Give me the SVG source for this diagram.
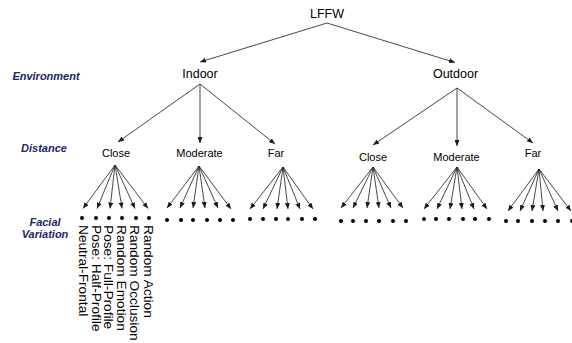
<svg xmlns="http://www.w3.org/2000/svg" width="572" height="343" viewBox="0 0 572 343">
<defs>
<marker id="ah" markerWidth="6" markerHeight="5" refX="6" refY="2.5" orient="auto" markerUnits="userSpaceOnUse"><path d="M0,0 L6,2.5 L0,5 z" fill="#1a1a1a"/></marker>
<style>
.t{font-family:"Liberation Sans",Arial,sans-serif;fill:#000;text-anchor:middle}
.n1{font-size:12.5px}
.n2{font-size:11px}
.lab{font-family:"Liberation Sans",Arial,sans-serif;font-size:11px;font-weight:bold;font-style:italic;fill:#23236e;text-anchor:middle}
.leaf{font-family:"Liberation Sans",Arial,sans-serif;font-size:13.7px;fill:#000}
.c line{stroke:#1a1a1a;stroke-width:0.8;marker-end:url(#ah)}
.d circle{fill:#000}
</style>
</defs>
<rect width="572" height="343" fill="#fff"/>

<g id="labels">
<text class="lab" x="46" y="80">Environment</text>
<text class="lab" x="44" y="152">Distance</text>
<text class="lab" x="45" y="226">Facial</text>
<text class="lab" x="45" y="238">Variation</text>
</g>

<g id="node-lffw"><text class="t n1" x="327" y="18">LFFW</text></g>
<g id="node-indoor"><text class="t n1" x="200" y="78">Indoor</text></g>
<g id="node-outdoor"><text class="t n1" x="455.5" y="78">Outdoor</text></g>
<g id="node-in-close"><text class="t n2" x="116" y="157">Close</text></g>
<g id="node-in-moderate"><text class="t n2" x="199.5" y="157">Moderate</text></g>
<g id="node-in-far"><text class="t n2" x="276" y="157">Far</text></g>
<g id="node-out-close"><text class="t n2" x="373" y="161">Close</text></g>
<g id="node-out-moderate"><text class="t n2" x="456.5" y="161">Moderate</text></g>
<g id="node-out-far"><text class="t n2" x="533" y="157">Far</text></g>

<g id="connectors" class="c">
<line x1="327" y1="23" x2="200" y2="62"/>
<line x1="327" y1="23" x2="455" y2="62.5"/>
<line x1="200" y1="84" x2="118" y2="142"/>
<line x1="200" y1="84" x2="200" y2="143"/>
<line x1="200" y1="84" x2="275" y2="144"/>
<line x1="457" y1="88" x2="373" y2="145"/>
<line x1="457" y1="88" x2="457" y2="146"/>
<line x1="457" y1="88" x2="533" y2="143"/>
<line x1="115" y1="165" x2="83" y2="208.5"/>
<line x1="115" y1="165" x2="97" y2="208.5"/>
<line x1="115" y1="165" x2="110" y2="208.5"/>
<line x1="115" y1="165" x2="122" y2="208.5"/>
<line x1="115" y1="165" x2="135" y2="208.5"/>
<line x1="115" y1="165" x2="148" y2="208.5"/>
<line x1="199" y1="166" x2="167" y2="208"/>
<line x1="199" y1="166" x2="180" y2="208"/>
<line x1="199" y1="166" x2="193" y2="208"/>
<line x1="199" y1="166" x2="205" y2="208"/>
<line x1="199" y1="166" x2="218" y2="208"/>
<line x1="199" y1="166" x2="231" y2="209"/>
<line x1="283" y1="167" x2="250" y2="209"/>
<line x1="283" y1="167" x2="263" y2="209"/>
<line x1="283" y1="167" x2="277" y2="209"/>
<line x1="283" y1="167" x2="288" y2="209"/>
<line x1="283" y1="167" x2="300" y2="209"/>
<line x1="283" y1="167" x2="313" y2="209"/>
<line x1="373" y1="167" x2="341" y2="208"/>
<line x1="373" y1="167" x2="353" y2="208"/>
<line x1="373" y1="167" x2="367" y2="208"/>
<line x1="373" y1="167" x2="379" y2="208"/>
<line x1="373" y1="167" x2="391" y2="208"/>
<line x1="373" y1="167" x2="403" y2="208"/>
<line x1="457" y1="167" x2="424" y2="209"/>
<line x1="457" y1="167" x2="437" y2="209"/>
<line x1="457" y1="167" x2="450" y2="209"/>
<line x1="457" y1="167" x2="462" y2="209"/>
<line x1="457" y1="167" x2="474" y2="209"/>
<line x1="457" y1="167" x2="487" y2="209"/>
<line x1="539" y1="169" x2="508" y2="211"/>
<line x1="539" y1="169" x2="520" y2="211"/>
<line x1="539" y1="169" x2="532" y2="211"/>
<line x1="539" y1="169" x2="543" y2="211"/>
<line x1="539" y1="169" x2="558" y2="211"/>
<line x1="539" y1="169" x2="571" y2="211"/>
</g>

<g id="leaves-in-close" class="d">
<circle cx="82" cy="218" r="2"/><circle cx="96" cy="218" r="2"/><circle cx="109" cy="218" r="2"/><circle cx="122" cy="218" r="2"/><circle cx="136" cy="218" r="2"/><circle cx="149" cy="218" r="2"/>
</g>
<g id="leaves-in-moderate" class="d">
<circle cx="167" cy="220" r="2"/><circle cx="181" cy="220" r="2"/><circle cx="193" cy="220" r="2"/><circle cx="207" cy="220" r="2"/><circle cx="220" cy="220" r="2"/><circle cx="233" cy="220" r="2"/>
</g>
<g id="leaves-in-far" class="d">
<circle cx="250" cy="219" r="2"/><circle cx="263" cy="219" r="2"/><circle cx="276" cy="219" r="2"/><circle cx="288" cy="219" r="2"/><circle cx="302" cy="219" r="2"/><circle cx="315" cy="219" r="2"/>
</g>
<g id="leaves-out-close" class="d">
<circle cx="341" cy="221" r="2"/><circle cx="353" cy="221" r="2"/><circle cx="366" cy="221" r="2"/><circle cx="379" cy="221" r="2"/><circle cx="393" cy="221" r="2"/><circle cx="406" cy="221" r="2"/>
</g>
<g id="leaves-out-moderate" class="d">
<circle cx="424" cy="219" r="2"/><circle cx="436" cy="219" r="2"/><circle cx="449" cy="219" r="2"/><circle cx="463" cy="219" r="2"/><circle cx="475" cy="219" r="2"/><circle cx="489" cy="219" r="2"/>
</g>
<g id="leaves-out-far" class="d">
<circle cx="506" cy="221" r="2"/><circle cx="518" cy="221" r="2"/><circle cx="532" cy="221" r="2"/><circle cx="545" cy="221" r="2"/><circle cx="558" cy="221" r="2"/><circle cx="572" cy="221" r="2"/>
</g>

<g id="leaf-labels">
<text class="leaf" transform="translate(79,225) rotate(90)">Neutral-Frontal</text>
<text class="leaf" transform="translate(91.5,225) rotate(90)">Pose: Half-Profile</text>
<text class="leaf" transform="translate(104,225) rotate(90)">Pose: Full-Profile</text>
<text class="leaf" transform="translate(117,225) rotate(90)">Random Emotion</text>
<text class="leaf" transform="translate(130,225) rotate(90)">Random Occlusion</text>
<text class="leaf" transform="translate(143.5,225) rotate(90)">Random Action</text>
</g>
</svg>
